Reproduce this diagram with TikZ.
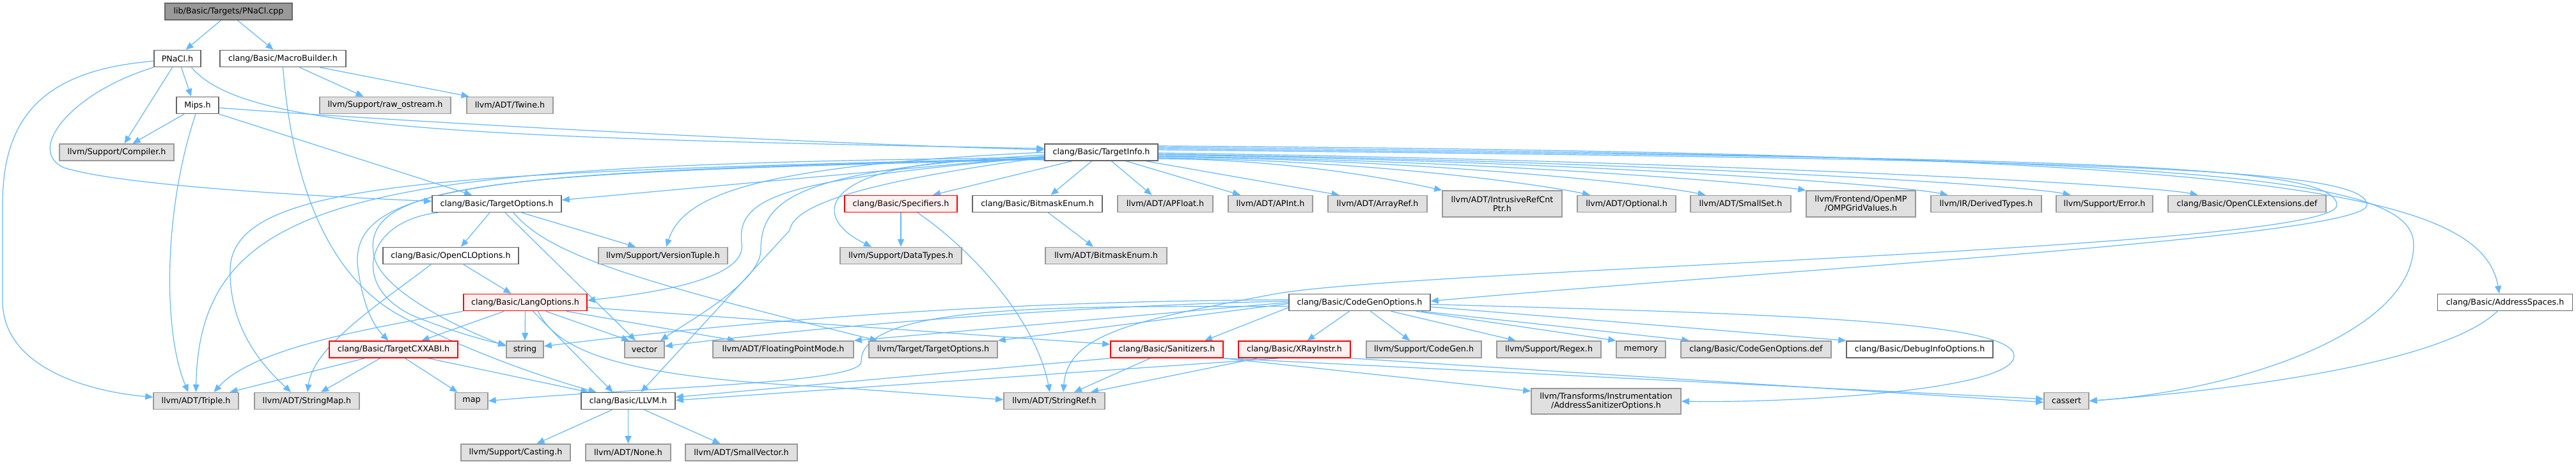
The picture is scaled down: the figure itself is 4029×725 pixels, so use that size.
\documentclass[tikz,border=0pt]{standalone}
\usepackage{fontspec}
\setmainfont{DejaVu Sans}
\usetikzlibrary{arrows.meta}
\definecolor{edgec}{HTML}{63B8FF}
\definecolor{grayfill}{HTML}{E0E0E0}
\definecolor{grayline}{HTML}{999999}
\definecolor{darkline}{HTML}{666666}
\definecolor{rootfill}{HTML}{999999}
\definecolor{redfill}{HTML}{FFF0F0}
\definecolor{redline}{HTML}{FF0000}
\pgfdeclarelayer{edgelayer}
\pgfsetlayers{edgelayer,main}
\begin{document}
\begin{tikzpicture}[x=1pt,y=-1pt,
  base/.style={draw, line width=1.6pt, inner sep=0pt, minimum height=26pt,
    font=\fontsize{12.7pt}{13.5pt}\selectfont, align=center},
  wbox/.style={base, draw=darkline, fill=white},
  gbox/.style={base, draw=grayline, fill=grayfill},
  rbox/.style={base, draw=redline, fill=redfill},
  rootbox/.style={base, draw=darkline, fill=rootfill},
  tall/.style={minimum height=41pt},
  edge/.style={draw=edgec, line width=1.2pt, -{Triangle[length=12pt,width=10pt]}}
]
\useasboundingbox (0,0) rectangle (4029,725);
% row 1-4
\node[rootbox, minimum width=199pt] (cpp) at (357.5,18) {lib/Basic/Targets/PNaCl.cpp};
\node[wbox, minimum width=73pt] (pnaclh) at (277.5,91.5) {PNaCl.h};
\node[wbox, minimum width=197pt] (macro) at (442.5,91.5) {clang/Basic/MacroBuilder.h};
\node[wbox, minimum width=66pt] (mips) at (309,164.5) {Mips.h};
\node[gbox, minimum width=205pt] (rawos) at (602.5,164.5) {llvm/Support/raw\_ostream.h};
\node[gbox, minimum width=135pt] (twine) at (797.5,164.5) {llvm/ADT/Twine.h};
\node[gbox, minimum width=179pt] (compiler) at (182.5,238) {llvm/Support/Compiler.h};
\node[wbox, minimum width=177pt] (tinfo) at (1722.5,238) {clang/Basic/TargetInfo.h};
% row 5
\node[wbox, minimum width=202pt] (topts) at (777,318.5) {clang/Basic/TargetOptions.h};
\node[rbox, minimum width=176pt] (spec) at (1409,318.5) {clang/Basic/Specifiers.h};
\node[wbox, minimum width=203pt] (bme) at (1622.5,318.5) {clang/Basic/BitmaskEnum.h};
\node[gbox, minimum width=149pt] (apfloat) at (1822.5,318.5) {llvm/ADT/APFloat.h};
\node[gbox, minimum width=132pt] (apint) at (1987,318.5) {llvm/ADT/APInt.h};
\node[gbox, minimum width=155pt] (arrayref) at (2154.5,318.5) {llvm/ADT/ArrayRef.h};
\node[gbox, tall, minimum width=187pt] (irc) at (2349.5,318.5) {llvm/ADT/IntrusiveRefCnt\\Ptr.h};
\node[gbox, minimum width=154pt] (optional) at (2544,318.5) {llvm/ADT/Optional.h};
\node[gbox, minimum width=157pt] (smallset) at (2722.5,318.5) {llvm/ADT/SmallSet.h};
\node[gbox, tall, minimum width=171pt] (omp) at (2910.5,318.5) {llvm/Frontend/OpenMP\\/OMPGridValues.h};
\node[gbox, minimum width=173pt] (derived) at (3106.5,318.5) {llvm/IR/DerivedTypes.h};
\node[gbox, minimum width=151pt] (nerror) at (3291.5,318.5) {llvm/Support/Error.h};
\node[gbox, minimum width=247pt] (oclext) at (3514.5,318.5) {clang/Basic/OpenCLExtensions.def};
% row 6
\node[wbox, minimum width=212pt] (oclopt) at (705,399.5) {clang/Basic/OpenCLOptions.h};
\node[gbox, minimum width=202pt] (version) at (1037,399.5) {llvm/Support/VersionTuple.h};
\node[gbox, minimum width=190pt] (datatypes) at (1409,399.5) {llvm/Support/DataTypes.h};
\node[gbox, minimum width=190pt] (bmellvm) at (1730,399.5) {llvm/ADT/BitmaskEnum.h};
% row 7
\node[rbox, minimum width=193pt] (langopt) at (821.5,472.5) {clang/Basic/LangOptions.h};
\node[wbox, minimum width=221pt] (cgo) at (2126.5,472.5) {clang/Basic/CodeGenOptions.h};
\node[wbox, minimum width=211pt] (addrsp) at (3918,472.5) {clang/Basic/AddressSpaces.h};
% row 8
\node[rbox, minimum width=201pt] (cxxabi) at (615.5,546) {clang/Basic/TargetCXXABI.h};
\node[gbox, minimum width=58pt] (nstring) at (821,546) {string};
\node[gbox, minimum width=62pt] (nvector) at (1008,546) {vector};
\node[gbox, minimum width=220pt] (fpm) at (1225,546) {llvm/ADT/FloatingPointMode.h};
\node[gbox, minimum width=201pt] (lto) at (1459.5,546) {llvm/Target/TargetOptions.h};
\node[rbox, minimum width=176pt] (sanit) at (1825,546) {clang/Basic/Sanitizers.h};
\node[rbox, minimum width=175pt] (xray) at (2024.5,546) {clang/Basic/XRayInstr.h};
\node[gbox, minimum width=180pt] (codegen) at (2227,546) {llvm/Support/CodeGen.h};
\node[gbox, minimum width=163pt] (regex) at (2422.5,546) {llvm/Support/Regex.h};
\node[gbox, minimum width=77pt] (nmemory) at (2566.5,546) {memory};
\node[gbox, minimum width=235pt] (cgodef) at (2746.5,546) {clang/Basic/CodeGenOptions.def};
\node[wbox, minimum width=229pt] (debuginfo) at (3002.5,546) {clang/Basic/DebugInfoOptions.h};
% row 9
\node[gbox, minimum width=133pt] (triple) at (306.5,626.5) {llvm/ADT/Triple.h};
\node[gbox, minimum width=164pt] (strmap) at (480,626.5) {llvm/ADT/StringMap.h};
\node[gbox, minimum width=51pt] (nmap) at (737.5,626.5) {map};
\node[wbox, minimum width=147pt] (llvmh) at (982.5,626.5) {clang/Basic/LLVM.h};
\node[gbox, minimum width=158pt] (strref) at (1649,626.5) {llvm/ADT/StringRef.h};
\node[gbox, minimum width=234pt, minimum height=40pt] (asanopt) at (2512,627) {llvm/Transforms/Instrumentation\\/AddressSanitizerOptions.h};
\node[gbox, minimum width=70pt] (cassert) at (3232,626.5) {cassert};
% row 10
\node[gbox, minimum width=171pt] (casting) at (806.5,707) {llvm/Support/Casting.h};
\node[gbox, minimum width=133pt] (nnone) at (982.5,707) {llvm/ADT/None.h};
\node[gbox, minimum width=175pt] (smallvec) at (1159.5,707) {llvm/ADT/SmallVector.h};

\begin{pgfonlayer}{edgelayer}
\fill[white] (0,0) rectangle (4029,725);
% root
\draw[edge] ([xshift=-12]cpp.south) -- ([xshift=13]pnaclh.north);
\draw[edge] ([xshift=14]cpp.south) -- ([xshift=-15]macro.north);
% PNaCl.h
\draw[edge] ([yshift=-4]pnaclh.west) .. controls (60,110) and (4,190) .. (4,320) -- (4,470) .. controls (4,575) and (140,612) .. ([yshift=6]triple.west);
\draw[edge] (pnaclh.south west) .. controls (110,145) and (40,235) .. (100,262) .. controls (190,290) and (480,306) .. ([yshift=4]topts.west);
\draw[edge] ([xshift=-8]pnaclh.south) -- ([xshift=12]compiler.north);
\draw[edge] ([xshift=6]pnaclh.south) -- ([xshift=-10]mips.north);
\draw[edge] ([xshift=22]pnaclh.south) .. controls (380,200) and (700,215) .. ([yshift=6]tinfo.west);
% MacroBuilder.h
\draw[edge] ([xshift=26]macro.south) -- ([xshift=-34]rawos.north);
\draw[edge] ([xshift=58]macro.south) -- ([xshift=-64]twine.north);
\draw[edge] (macro.south) .. controls (455,260) and (500,420) .. (620,490) .. controls (720,545) and (850,590) .. ([xshift=-50]llvmh.north);
% Mips.h
\draw[edge] ([xshift=-21]mips.south) -- ([xshift=25]compiler.north);
\draw[edge] ([xshift=-3]mips.south) .. controls (255,330) and (255,520) .. ([xshift=-12]triple.north);
\draw[edge] ([yshift=-4]mips.east) .. controls (700,195) and (1300,225) .. ([yshift=4]tinfo.west);
\draw[edge] (mips.south east) -- ([xshift=-39]topts.north);
% TargetInfo.h, left side
\draw[edge] ([yshift=-6]tinfo.west) -- ([yshift=6]topts.east);
\draw[edge] ([yshift=-8]tinfo.west) .. controls (600,258) and (312,290) .. (triple.north);
\draw[edge] ([yshift=-9]tinfo.west) .. controls (700,270) and (365,280) .. (360,420) .. controls (358,520) and (420,580) .. ([xshift=-25]strmap.north);
\draw[edge] ([yshift=-10]tinfo.west) .. controls (800,268) and (540,280) .. (560,420) .. controls (568,480) and (585,510) .. ([xshift=-8]cxxabi.north);
\draw[edge] ([yshift=-11]tinfo.west) .. controls (800,270) and (560,280) .. (585,400) .. controls (595,450) and (700,505) .. ([yshift=5]nstring.west);
\draw[edge] ([yshift=-7]tinfo.west) .. controls (1250,280) and (1150,300) .. (1160,380) .. controls (1170,440) and (1000,460) .. ([yshift=3]langopt.east);
\draw[edge] (tinfo.west) .. controls (1200,258) and (1070,300) .. ([xshift=5]version.north);
\draw[edge] ([yshift=-4]tinfo.west) .. controls (1250,265) and (1190,310) .. (1190,390) .. controls (1190,440) and (1080,500) .. ([xshift=25]nvector.north);
\draw[edge] ([yshift=-8]tinfo.west) .. controls (1300,290) and (1240,330) .. (1235,360) -- ([xshift=20]llvmh.north);
\draw[edge] ([yshift=-12]tinfo.west) .. controls (1300,240) and (1250,330) .. ([xshift=-46]datatypes.north);
% TargetInfo.h, below
\draw[edge] ([xshift=-46]tinfo.south) -- ([xshift=50]spec.north);
\draw[edge] ([xshift=-15]tinfo.south) -- ([xshift=21]bme.north);
\draw[edge] ([xshift=16]tinfo.south) -- ([xshift=-21]apfloat.north);
\draw[edge] ([xshift=39]tinfo.south) -- ([xshift=-47]apint.north);
\draw[edge] ([xshift=70]tinfo.south) -- ([xshift=-60]arrayref.north);
% TargetInfo.h, right side
\draw[edge] ([yshift=-10]tinfo.east) .. controls (2030,249) and (2200,285) .. (irc.north west);
\draw[edge] ([yshift=-9]tinfo.east) .. controls (2150,250) and (2420,290) .. ([xshift=-57]optional.north);
\draw[edge] ([yshift=-7]tinfo.east) .. controls (2240,250) and (2587,288) .. ([xshift=-55]smallset.north);
\draw[edge] ([yshift=-6]tinfo.east) .. controls (2320,250) and (2745,286) .. (omp.north west);
\draw[edge] ([yshift=-4]tinfo.east) .. controls (2430,250) and (2966,288) .. ([xshift=-60]derived.north);
\draw[edge] ([yshift=-3]tinfo.east) .. controls (2520,250) and (3158,288) .. ([xshift=-53]nerror.north);
\draw[edge] ([yshift=-1]tinfo.east) .. controls (2620,250) and (3357,288) .. ([xshift=-77]oclext.north);
\draw[edge] ([yshift=4]tinfo.east) .. controls (3300,250) and (3700,262) .. (3702,320) .. controls (3704,370) and (2800,420) .. ([yshift=2]cgo.east);
\draw[edge] ([yshift=6]tinfo.east) .. controls (3250,248) and (3650,255) .. (3655,320) .. controls (3660,390) and (2200,420) .. (1990,460) .. controls (1780,500) and (1670,520) .. ([xshift=14]strref.north);
\draw[edge] ([yshift=8]tinfo.east) .. controls (3400,245) and (3770,270) .. (3775,380) .. controls (3778,520) and (3500,610) .. (cassert.east);
\draw[edge] ([yshift=10]tinfo.east) .. controls (3500,240) and (3880,290) .. ([xshift=-9]addrsp.north);
% AddressSpaces.h
\draw[edge] ([xshift=-12]addrsp.south) .. controls (3830,560) and (3550,605) .. (cassert.east);
% clang TargetOptions.h
\draw[edge] ([xshift=-11]topts.south) -- ([xshift=16]oclopt.north);
\draw[edge] ([xshift=39]topts.south) -- ([xshift=-43]version.north);
\draw[edge] ([xshift=13]topts.south) -- ([xshift=-14]nvector.north);
\draw[edge] ([xshift=26]topts.south) .. controls (860,400) and (1000,440) .. ([xshift=-87]lto.north);
\draw[edge] ([xshift=10]topts.south west) .. controls (570,345) and (545,450) .. (650,495) .. controls (700,515) and (750,530) .. ([yshift=7]nstring.west);
% OpenCLOptions.h
\draw[edge] ([xshift=20]oclopt.south) -- ([xshift=-22]langopt.north);
\draw[edge] ([xshift=-31]oclopt.south) .. controls (600,470) and (490,540) .. ([xshift=1]strmap.north);
% Specifiers.h, BitmaskEnum.h
\draw[edge] (spec.south) -- (datatypes.north);
\draw[edge] ([xshift=26]spec.south) .. controls (1520,390) and (1620,500) .. ([xshift=-7]strref.north);
\draw[edge] ([xshift=17]bme.south) -- ([xshift=-20]bmellvm.north);
% LangOptions.h
\draw[edge] (langopt.south) -- (nstring.north);
\draw[edge] ([xshift=32]langopt.south) -- ([xshift=8]nvector.north west);
\draw[edge] ([xshift=12]langopt.south) -- ([xshift=-24]llvmh.north);
\draw[edge] ([xshift=64]langopt.south) -- ([xshift=-75]fpm.north);
\draw[edge] ([xshift=-33]langopt.south) -- ([xshift=44]cxxabi.north);
\draw[edge] (langopt.south west) .. controls (600,510) and (400,540) .. ([xshift=28]triple.north);
\draw[edge] ([yshift=-8]langopt.east) -- ([yshift=8]sanit.west);
\draw[edge] ([xshift=20]langopt.south) .. controls (870,545) and (960,590) .. (1300,605) -- ([yshift=2]strref.west);
% TargetCXXABI.h
\draw[edge] ([xshift=-45]cxxabi.south) -- ([xshift=53]triple.north);
\draw[edge] ([xshift=-21]cxxabi.south) -- ([xshift=22]strmap.north);
\draw[edge] ([xshift=18]cxxabi.south) -- ([xshift=-22]nmap.north);
\draw[edge] ([xshift=54]cxxabi.south) -- ([xshift=-62]llvmh.north);
% CodeGenOptions.h
\draw[edge] ([xshift=-16]cgo.south) -- ([xshift=20]xray.north);
\draw[edge] ([xshift=17]cgo.south) -- ([xshift=-22]codegen.north);
\draw[edge] ([xshift=49]cgo.south) -- ([xshift=-52]regex.north);
\draw[edge] ([xshift=88]cgo.south) -- (nmemory.north west);
\draw[edge] ([xshift=96]cgo.south) -- ([xshift=14]cgodef.north west);
\draw[edge] ([yshift=-7]cgo.east) -- (debuginfo.north west);
\draw[edge] ([yshift=-3]cgo.east) .. controls (2750,490) and (3145,500) .. (3150,555) .. controls (3155,610) and (2800,630) .. (asanopt.east);
\draw[edge] ([yshift=-8]cgo.west) -- ([xshift=59]sanit.north);
\draw[edge] ([yshift=-2]cgo.west) -- (lto.north east);
\draw[edge] (cgo.west) -- (fpm.north east);
\draw[edge] ([yshift=2]cgo.west) .. controls (1600,480) and (1200,520) .. ([yshift=5]nvector.east);
\draw[edge] ([yshift=4]cgo.west) .. controls (1500,470) and (1100,510) .. ([yshift=5]nstring.east);
\draw[edge] ([yshift=-6]cgo.west) .. controls (1700,480) and (1345,470) .. (1347,565) .. controls (1348,600) and (1000,605) .. (nmap.east);
% Sanitizers.h
\draw[edge] ([xshift=-26]sanit.south) -- ([xshift=31]strref.north);
\draw[edge] (sanit.south west) -- ([yshift=6]llvmh.east);
\draw[edge] (sanit.south east) -- ([yshift=-5]asanopt.north west);
\draw[edge] (sanit.south east) -- ([yshift=3]cassert.west);
% XRayInstr.h
\draw[edge] ([xshift=-58]xray.south) -- ([xshift=57]strref.north);
\draw[edge] ([xshift=-25]xray.south) -- ([yshift=1]llvmh.east);
\draw[edge] (xray.south east) -- ([yshift=-2]cassert.west);
% LLVM.h
\draw[edge] ([xshift=-25]llvmh.south) -- ([xshift=33]casting.north);
\draw[edge] (llvmh.south) -- (nnone.north);
\draw[edge] ([xshift=25]llvmh.south) -- ([xshift=-33]smallvec.north);
\end{pgfonlayer}
\end{tikzpicture}
\end{document}
